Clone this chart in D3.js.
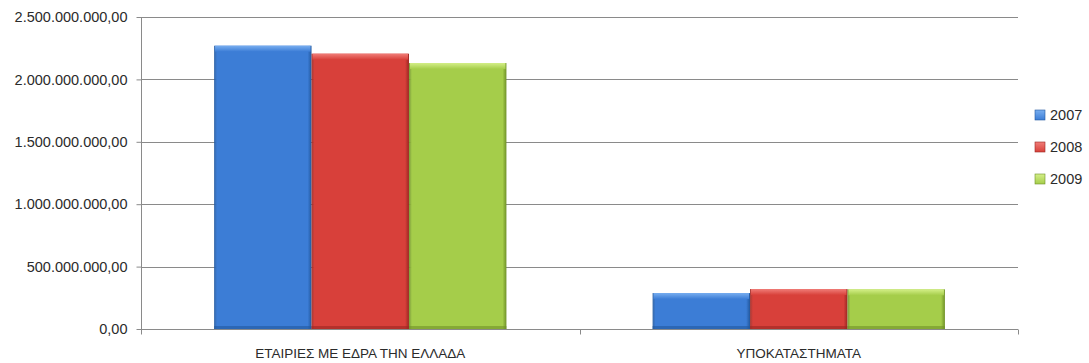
<!DOCTYPE html>
<html>
<head>
<meta charset="utf-8">
<script src="https://cdn.jsdelivr.net/npm/d3@7"></script>
<style>
  html, body { margin: 0; padding: 0; background: #ffffff; }
  svg { display: block; }
  text { font-family: "Liberation Sans", Arial, sans-serif; fill: #2b2b2b; }
</style>
</head>
<body>
<svg id="chart" width="1089" height="363"></svg>
<script>
// Categories and yearly totals (EUR)
const categories = ["ΕΤΑΙΡΙΕΣ ΜΕ ΕΔΡΑ ΤΗΝ ΕΛΛΑΔΑ", "ΥΠΟΚΑΤΑΣΤΗΜΑΤΑ"];
const years = ["2007", "2008", "2009"];
const values2007 = [2270000000, 288000000];
const values2008 = [2206000000, 320000000];
const values2009 = [2131000000, 318000000];
const yTicks = [0, 500000000, 1000000000, 1500000000, 2000000000, 2500000000];

const seriesValues = [values2007, values2008, values2009];
const palette = {
  "2007": { base: "#3c7dd6", light: "#78aef0", dark: "#22589e" },
  "2008": { base: "#d8403a", light: "#f07d78", dark: "#9c2622" },
  "2009": { base: "#a5cd4a", light: "#d4ef88", dark: "#6f9128" }
};

const svg = d3.select("#chart");
const margin = { left: 141, right: 71, top: 17, bottom: 34 };
const W = 1089, H = 363;
const plotW = W - margin.left - margin.right;
const plotH = H - margin.top - margin.bottom;

const x0 = d3.scaleBand().domain(categories).range([0, plotW]).paddingInner(0).paddingOuter(0);
// Gap between clusters equals 1.5 bar widths (cluster = 4.5 bar widths)
const x1 = d3.scaleBand().domain(years).range([x0.bandwidth() * (0.75 / 4.5), x0.bandwidth() * (3.75 / 4.5)]);
const y = d3.scaleLinear().domain([0, 2500000000]).range([plotH, 0]);

const fmt = v => {
  const s = d3.format(",.2f")(v);
  return s.replace(/,/g, "#").replace(".", ",").replace(/#/g, ".");
};

const defs = svg.append("defs");
years.forEach(yr => {
  const c = palette[yr];
  const g = defs.append("linearGradient").attr("id", "body" + yr)
    .attr("x1", "0").attr("x2", "1").attr("y1", "0").attr("y2", "0");
  g.append("stop").attr("offset", "0%").attr("stop-color", c.dark).attr("stop-opacity", 0.9);
  g.append("stop").attr("offset", "3%").attr("stop-color", c.base);
  g.append("stop").attr("offset", "50%").attr("stop-color", c.base);
  g.append("stop").attr("offset", "96%").attr("stop-color", c.base);
  g.append("stop").attr("offset", "100%").attr("stop-color", c.dark);
  const t = defs.append("linearGradient").attr("id", "top" + yr)
    .attr("x1", "0").attr("x2", "0").attr("y1", "0").attr("y2", "1");
  t.append("stop").attr("offset", "0%").attr("stop-color", c.light);
  t.append("stop").attr("offset", "100%").attr("stop-color", c.base);
});

const plot = svg.append("g").attr("transform", `translate(${margin.left},${margin.top})`);

// Horizontal gridlines
plot.append("g").selectAll("line").data(yTicks.filter(d => d > 0)).join("line")
  .attr("x1", 0).attr("x2", plotW)
  .attr("y1", d => Math.round(y(d)) + 0.5).attr("y2", d => Math.round(y(d)) + 0.5)
  .attr("stroke", "#8a8a8a").attr("stroke-width", 1);

// Y axis
const yAxis = plot.append("g").attr("transform", "translate(0.5,0)")
  .call(d3.axisLeft(y).tickValues(yTicks).tickFormat(fmt).tickSize(5).tickPadding(9));
yAxis.selectAll("path, line").attr("stroke", "#8a8a8a");
yAxis.selectAll("text").style("font-size", "14.5px").attr("fill", "#333333")
  .style("font-family", '"Liberation Sans", Arial, sans-serif');
yAxis.select(".domain").attr("d", `M0,${plotH}V0`);

// Bars
const groups = plot.append("g").selectAll("g").data(categories).join("g")
  .attr("transform", d => `translate(${x0(d)},0)`);

const bars = groups.selectAll("g.bar")
  .data((c, i) => years.map((yr, k) => ({ yr, v: seriesValues[k][i] })))
  .join("g").attr("class", "bar");

bars.append("rect")
  .attr("x", d => x1(d.yr)).attr("width", x1.bandwidth())
  .attr("y", d => y(d.v)).attr("height", d => plotH - y(d.v))
  .attr("fill", d => `url(#body${d.yr})`);
bars.append("rect")
  .attr("x", d => x1(d.yr) + 1).attr("width", x1.bandwidth() - 2)
  .attr("y", d => y(d.v)).attr("height", d => Math.min(6, plotH - y(d.v)))
  .attr("fill", d => `url(#top${d.yr})`);
bars.append("rect")
  .attr("x", d => x1(d.yr)).attr("width", x1.bandwidth())
  .attr("y", plotH - 3).attr("height", 3)
  .attr("fill", d => palette[d.yr].dark).attr("opacity", 0.6);

// X axis
const xAxis = plot.append("g").attr("transform", `translate(0,${plotH + 0.5})`)
  .call(d3.axisBottom(x0).tickSize(0).tickPadding(19));
xAxis.select(".domain").attr("stroke", "#8a8a8a").attr("d", `M0,0H${plotW}`);
xAxis.selectAll("text").style("font-size", "13.5px").attr("fill", "#2b2b2b")
  .style("font-family", '"Liberation Sans", Arial, sans-serif');
xAxis.append("g").selectAll("line").data([0, plotW / 2, plotW]).join("line")
  .attr("x1", d => Math.round(d) + 0.5).attr("x2", d => Math.round(d) + 0.5)
  .attr("y1", 0).attr("y2", 5).attr("stroke", "#8a8a8a");

// Legend
const legend = svg.append("g").attr("transform", "translate(1035,115)");
const li = legend.selectAll("g").data(years).join("g")
  .attr("transform", (d, i) => `translate(0,${i * 32})`);
li.append("rect").attr("x", 0).attr("y", -5).attr("width", 10).attr("height", 10)
  .attr("fill", d => `url(#top${d})`).attr("stroke", d => palette[d].dark).attr("stroke-width", 0.6);
li.append("text").attr("x", 15).attr("y", 0).attr("dy", "0.35em")
  .style("font-size", "14.5px").text(d => d);
</script>
</body>
</html>
